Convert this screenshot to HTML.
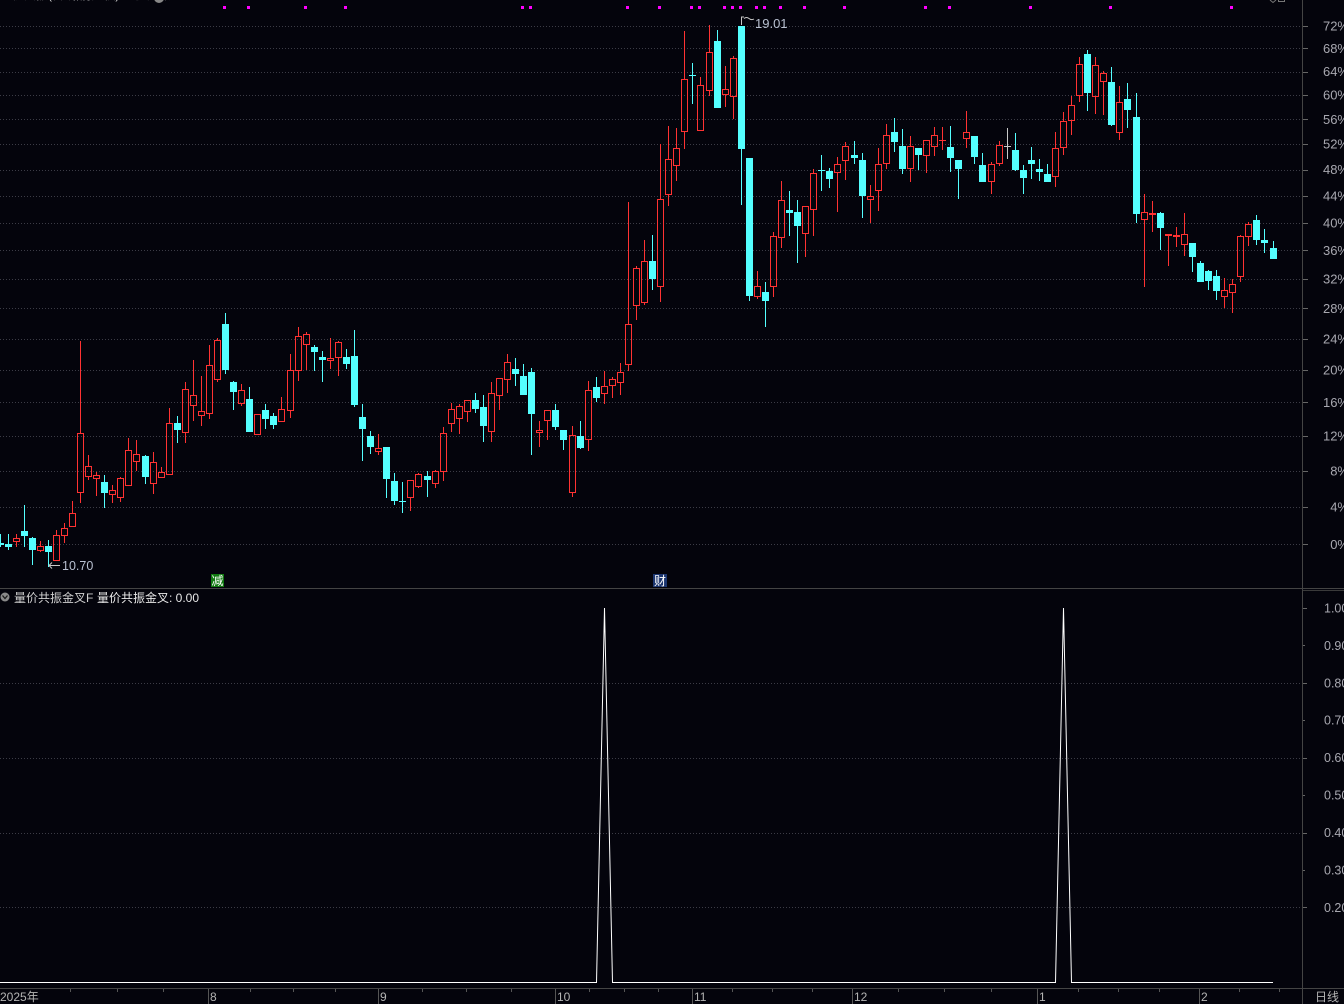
<!DOCTYPE html>
<html><head><meta charset="utf-8">
<style>
html,body{margin:0;padding:0;background:#04040c;overflow:hidden;}
svg{display:block;}
text{font-family:"Liberation Sans","Noto Sans CJK SC",sans-serif;}
</style></head><body>
<svg id="s" width="1344" height="1004" xmlns="http://www.w3.org/2000/svg">
<rect width="1344" height="1004" fill="#04040c"/>
<!-- header (cut off) -->
<text x="0" y="-1" font-size="12" fill="#d8d8d8">量价共振(日线,前复权) 量价共振</text>
<circle cx="159" cy="-2" r="5" fill="#888"/>
<path d="M1270,0 L1273,2.5 L1276,0" stroke="#777" fill="none"/>
<rect x="1278.5" y="-3.5" width="6" height="5" stroke="#777" fill="none"/>
<g id="grid" stroke="#3c3c46" stroke-width="1" stroke-dasharray="1 2"></g>
<g id="magenta" fill="#ff00ff"></g>
<g id="candles"></g>

<!-- high / low markers -->
<path d="M741.5,25 V17 H744 M744,18.5 q2.5,-2 5,0 t5,0.5" stroke="#c8c8c8" fill="none" stroke-width="1"/>
<text x="755" y="28" font-size="13" fill="#b8c0d0">19.01</text>
<path d="M60,565.5 H49 M52,562.5 L49,565.5 L52,568.5" stroke="#c8c8c8" fill="none" stroke-width="1"/>
<text x="62" y="570" font-size="12.5" fill="#b8c0d0">10.70</text>

<!-- event boxes -->
<rect x="211" y="574" width="13" height="13" fill="#117a11"/>
<text x="217.5" y="585" font-size="12" fill="#ffffff" text-anchor="middle">减</text>
<rect x="653" y="574" width="14" height="13" fill="#1c3670"/>
<text x="660" y="585" font-size="12" fill="#ffffff" text-anchor="middle">财</text>

<!-- frame lines -->
<line x1="0" y1="588.5" x2="1344" y2="588.5" stroke="#444"/>
<line x1="1303" y1="590.5" x2="1344" y2="590.5" stroke="#3a3a3a"/>
<line x1="1302.5" y1="0" x2="1302.5" y2="1004" stroke="#444"/>
<line x1="0" y1="988.5" x2="1344" y2="988.5" stroke="#444"/>

<!-- right axis labels main -->
<g id="plabels" font-size="13" fill="#a8a8b0" text-anchor="end"></g>
<g id="pticks" stroke="#666"></g>

<!-- lower panel -->
<circle cx="5" cy="597" r="4.5" fill="#8a8a8a"/>
<path d="M2.5,595.5 L5,598.5 L7.5,595.5" stroke="#1a1a1a" stroke-width="1.3" fill="none"/>
<text x="14" y="602" font-size="12" fill="#d0d0d0">量价共振金叉F</text>
<text x="97" y="602" font-size="12" fill="#e8e8e8">量价共振金叉: 0.00</text>
<g id="lgrid" stroke="#3c3c46" stroke-width="1" stroke-dasharray="1 2"></g>
<g id="llabels" font-size="12.5" fill="#a8a8b0"></g>
<polyline points="0,982.5 596.5,982.5 604.5,608 612.5,982.5 1055.5,982.5 1063.5,608 1071.5,982.5 1273,982.5" fill="none" stroke="#ffffff" stroke-width="1"/>

<!-- bottom axis -->
<g id="xticks" stroke="#555"></g>
<g font-size="12" fill="#b4b4b4">
<text x="0" y="1001">2025年</text>
<text x="210" y="1001">8</text>
<text x="380" y="1001">9</text>
<text x="557" y="1001">10</text>
<text x="694" y="1001">11</text>
<text x="854" y="1001">12</text>
<text x="1039" y="1001">1</text>
<text x="1201" y="1001">2</text>
<text x="1315" y="1001">日线</text>
</g>
</svg>
<script>
(function(){
var D="c,534,543,545,547;c,534,544,547,550;r,534,538,542,547;c,505,531,536,547;c,537,538,550,565;r,541,546,551,552;c,540,546,552,567;r,530,535,561,561;r,523,528,536,543;r,501,513,527,527;r,341,433,493,503;r,455,466,477,480;r,472,475,479,496;c,475,482,493,508;r,485,490,495,503;r,477,478,498,502;r,438,450,486,486;r,440,454,462,471;c,455,456,477,484;r,452,462,484,494;r,467,472,478,478;r,408,423,475,475;c,416,423,430,443;r,382,389,433,443;r,360,395,406,421;r,376,411,416,426;r,345,365,414,419;r,338,340,380,382;c,313,324,370,374;c,381,382,392,410;r,384,390,404,406;c,387,399,432,432;r,414,414,435,435;c,404,410,419,429;c,413,416,425,429;r,397,409,422,422;r,354,370,411,418;r,327,336,371,381;r,332,334,345,370;c,345,347,352,371;c,351,357,360,382;r,338,358,361,369;r,341,342,358,376;c,349,357,364,369;c,330,356,405,407;c,404,417,429,461;c,431,436,447,454;r,434,448,452,455;c,447,447,479,498;c,473,481,501,505;c,482,501,502,513;r,480,480,498,511;r,473,474,487,488;c,471,476,480,497;r,470,471,484,488;r,427,433,472,481;r,403,409,424,432;r,404,406,419,434;r,400,400,412,422;c,393,400,409,413;c,395,407,426,442;r,382,393,432,442;r,378,378,396,410;r,354,362,380,393;c,358,369,374,386;c,364,376,395,395;c,368,372,414,455;r,421,430,433,447;r,410,410,421,440;c,404,410,427,430;c,430,430,440,450;r,426,435,493,497;c,421,436,448,449;r,381,390,440,451;c,377,387,398,402;r,371,386,394,404;r,377,379,386,398;r,363,372,383,395;r,202,324,365,371;r,266,268,306,320;r,240,261,303,305;c,235,261,279,290;r,144,199,287,302;r,126,159,195,206;r,128,148,166,181;r,31,79,132,149;c,63,75,76,104;r,77,85,131,131;r,25,52,91,96;c,30,41,108,108;r,66,89,95,107;r,56,58,97,119;c,26,26,149,205;c,158,158,296,301;r,271,286,297,299;c,282,292,301,327;r,232,236,287,297;r,181,200,238,248;c,191,210,213,236;c,200,212,226,263;r,206,206,234,257;r,169,173,210,236;c,155,170,171,191;c,168,171,179,188;r,157,164,173,212;r,142,146,161,180;c,141,155,158,164;c,153,160,196,218;r,185,196,200,223;r,148,164,191,211;r,124,135,164,169;c,118,132,142,152;c,129,146,169,174;r,136,146,169,182;c,148,148,155,170;r,140,140,156,173;r,127,135,147,156;r,127,140,141,150;c,126,147,158,172;c,160,160,169,199;r,111,132,139,148;c,136,136,157,164;c,153,165,182,182;r,162,164,182,194;r,141,145,164,166;g,128,146,147,159;c,133,150,170,171;c,165,170,178,194;c,147,160,164,179;c,159,169,172,181;c,164,174,182,182;r,132,148,177,187;r,112,121,148,155;r,96,105,121,135;r,57,64,96,102;c,50,54,93,111;r,57,65,97,114;r,71,73,82,115;c,67,82,125,126;r,86,102,133,140;c,83,99,110,128;c,93,117,214,223;r,194,212,220,287;r,201,213,215,232;c,212,213,228,250;r,234,234,236,266;r,227,235,237,247;r,213,234,245,256;c,243,243,257,272;c,261,263,282,282;c,270,271,281,290;c,270,276,291,300;r,278,290,297,308;r,279,284,293,313;r,235,236,277,282;r,222,224,237,246;c,215,220,240,245;c,229,240,243,253;c,241,248,259,259";
function L(x1,y1,x2,y2,c){return '<line x1="'+x1+'" y1="'+y1+'" x2="'+x2+'" y2="'+y2+'" stroke="'+c+'" stroke-width="1"/>';}
var h='';
D.split(';').forEach(function(s,k){
  var p=s.split(','),c=p[0],wt=+p[1],bt=+p[2],bb=+p[3],wb=+p[4];
  var px=Math.floor(k*8.057),x=px+0.5;
  var col=c==='r'?'#ff3232':(c==='c'?'#54ffff':'#c8c8c8');
  if(c==='c'){
    if(wb>wt) h+=L(x,wt,x,wb,col);
    h+='<rect x="'+(px-3)+'" y="'+bt+'" width="7" height="'+Math.max(1,bb-bt)+'" fill="'+col+'"/>';
  } else {
    if(bb-bt<=1){
      if(wb>wt) h+=L(x,wt,x,wb,col);
      h+='<rect x="'+(px-3)+'" y="'+bt+'" width="7" height="1" fill="'+col+'"/>';
    } else {
      if(bt>wt) h+=L(x,wt,x,bt,col);
      if(wb>bb) h+=L(x,bb,x,wb,col);
      h+='<rect x="'+(px-2.5)+'" y="'+(bt+0.5)+'" width="6" height="'+(bb-bt-1)+'" fill="none" stroke="'+col+'" stroke-width="1"/>';
    }
  }
});
document.getElementById('candles').innerHTML=h;

var mk=[28,31,38,43,65,66,78,82,86,87,90,91,92,94,95,97,100,105,115,118,128,138,153],m='';
mk.forEach(function(k){var px=Math.floor(k*8.057);m+='<rect x="'+(px-2)+'" y="6" width="3" height="3"/>';});
document.getElementById('magenta').innerHTML=m;

var g='',pl='',pt='';
for(var i=0;i<=18;i++){
  var pct=i*4,y=544.3-955.7*Math.log(1+pct/100),yr=Math.round(y)+0.5;
  g+='<line x1="0" y1="'+yr+'" x2="1302" y2="'+yr+'"/>';
  pt+='<line x1="1303" y1="'+yr+'" x2="1308" y2="'+yr+'"/>';
  pl+='<text x="1349" y="'+(y+4.6).toFixed(1)+'">'+pct+'%</text>';
}
document.getElementById('grid').innerHTML=g;
document.getElementById('pticks').innerHTML=pt;
document.getElementById('plabels').innerHTML=pl;

var lg='',ll='',lt='';
for(var v=2;v<=10;v++){
  var y2=982.3-v*37.43,yr2=Math.round(y2)+0.5;
  if(v%2===0 && v<10) lg+='<line x1="0" y1="'+yr2+'" x2="1302" y2="'+yr2+'"/>';
  lt+='<line x1="1303" y1="'+yr2+'" x2="'+(v%2===0?1307:1305)+'" y2="'+yr2+'" stroke="#666"/>';
  ll+='<text x="1324" y="'+(y2+4.4).toFixed(1)+'">'+(v/10).toFixed(2)+'</text>';
}
document.getElementById('lgrid').innerHTML=lg;
document.getElementById('llabels').innerHTML=ll+lt;

var maj=[208,378,555,692,852,1037,1199],mn=[70,117,163,250,293,335,422,466,511,589,624,658,732,772,812,898,944,991,1078,1118,1159,1239,1279],xt='';
maj.forEach(function(x){xt+='<line x1="'+(x+0.5)+'" y1="989" x2="'+(x+0.5)+'" y2="1004"/>';});
mn.forEach(function(x){xt+='<line x1="'+(x+0.5)+'" y1="989" x2="'+(x+0.5)+'" y2="992"/>';});
document.getElementById('xticks').innerHTML=xt;
})();
</script>
</body></html>
